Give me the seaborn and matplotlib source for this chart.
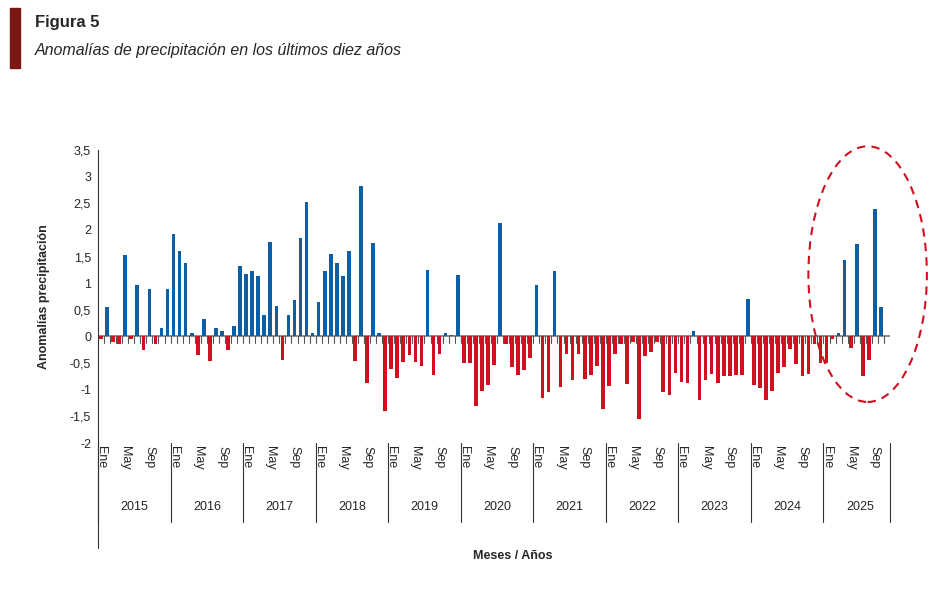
import numpy as np
import pandas as pd
import matplotlib
matplotlib.use("Agg")
import matplotlib.pyplot as plt
from matplotlib.patches import Ellipse, Rectangle
import seaborn as sns

# monthly anomalies, Jan 2015 - Oct 2025
anomalies = [
    -0.05, 0.55, -0.1, -0.15, 1.52, -0.05, 0.97, -0.25, 0.9, -0.15, 0.15, 0.9,      # 2015
    1.92, 1.6, 1.38, 0.07, -0.35, 0.32, -0.47, 0.15, 0.1, -0.25, 0.2, 1.33,          # 2016
    1.17, 1.22, 1.13, 0.4, 1.78, 0.58, -0.45, 0.4, 0.68, 1.85, 2.53, 0.07,           # 2017
    0.65, 1.22, 1.55, 1.38, 1.13, 1.6, -0.47, 2.82, -0.88, 1.75, 0.07, -1.4,         # 2018
    -0.62, -0.78, -0.48, -0.35, -0.48, -0.55, 1.25, -0.72, -0.32, 0.07, 0.03, 1.15,  # 2019
    -0.5, -0.5, -1.3, -1.03, -0.92, -0.54, 2.13, -0.15, -0.57, -0.73, -0.63, -0.41,  # 2020
    0.97, -1.15, -1.05, 1.22, -0.95, -0.32, -0.82, -0.32, -0.8, -0.73, -0.55, -1.37, # 2021
    -0.93, -0.33, -0.15, -0.9, -0.1, -1.55, -0.37, -0.3, -0.1, -1.05, -1.1, -0.68,   # 2022
    -0.85, -0.88, 0.1, -1.2, -0.82, -0.7, -0.88, -0.75, -0.75, -0.72, -0.72, 0.71,   # 2023
    -0.92, -0.97, -1.2, -1.02, -0.68, -0.58, -0.23, -0.52, -0.74, -0.7, -0.15, -0.5, # 2024
    -0.5, -0.05, 0.07, 1.43, -0.22, 1.74, -0.75, -0.45, 2.4, 0.56,                   # 2025
]
years = [str(y) for y in range(2015, 2026)]
month_labels = {0: "Ene", 4: "May", 8: "Sep"}
ytick_vals = [-2, -1.5, -1, -0.5, 0, 0.5, 1, 1.5, 2, 2.5, 3, 3.5]

BLUE = "#0b5fa5"
RED = "#d0101e"

df = pd.DataFrame({"idx": range(len(anomalies)), "val": anomalies})
df["sign"] = np.where(df["val"] >= 0, "pos", "neg")

sns.set_style("white")
plt.rcParams["font.family"] = ["Liberation Sans", "DejaVu Sans"]
fig = plt.figure(figsize=(9.46, 5.92), dpi=100)
ax = fig.add_axes([98 / 946, 1 - 443 / 592, 792 / 946, 293 / 592])

sns.barplot(data=df, x="idx", y="val", hue="sign", palette={"pos": BLUE, "neg": RED},
            dodge=False, width=0.6, linewidth=0, saturation=1, legend=False, ax=ax)
ax.set_xlim(-0.5, 130.5)
ax.set_ylim(-2, 3.5)
ax.axhline(0, color="#777777", lw=1.2, zorder=0)

for s in ["top", "right", "bottom"]:
    ax.spines[s].set_visible(False)
ax.spines["left"].set_color("#333333")
ax.set_yticks(ytick_vals)
ax.set_yticklabels([f"{v:g}".replace(".", ",") for v in ytick_vals], fontsize=9)
ax.tick_params(axis="y", length=3, color="#333333", pad=2)
ax.set_xticks([])
ax.set_xlabel("")
ax.set_ylabel("Anomalías precipitación", fontsize=9, fontweight="bold", labelpad=14)

# small month ticks below the zero line
for i in range(len(anomalies)):
    ax.plot([i + 0.5, i + 0.5], [0, -0.12], color="#555555", lw=0.8, zorder=0)

# category axis below the plot
trans = ax.get_xaxis_transform()
for i in range(len(anomalies)):
    m = i % 12
    if m in month_labels:
        ax.text(i, -0.01, month_labels[m], transform=trans, rotation=270,
                ha="center", va="top", fontsize=9)
for k, y in enumerate(years):
    start = k * 12 - 0.5
    ax.plot([start, start], [0, -0.27], transform=trans, color="#333333", lw=0.8, clip_on=False)
    ax.text(start + 6, -0.22, y, transform=trans, ha="center", va="center", fontsize=9)
ax.plot([130.5, 130.5], [0, -0.27], transform=trans, color="#333333", lw=0.8, clip_on=False)
ax.plot([-0.5, -0.5], [0, -0.36], transform=trans, color="#333333", lw=0.8, clip_on=False)
fig.text(513 / 946, 1 - 556 / 592, "Meses / Años", ha="center", va="center",
         fontsize=9, fontweight="bold")

# highlight the 2025 rainy months
ax.add_patch(Ellipse((126.8, 1.17), 19.6, 4.8, fill=False, ec=RED, lw=1.5,
                     ls=(0, (4, 3)), clip_on=False))

# header
fig.patches.append(Rectangle((10 / 946, 1 - 68 / 592), 10 / 946, 60 / 592,
                             transform=fig.transFigure, color="#7a1712"))
fig.text(35 / 946, 1 - 22 / 592, "Figura 5", fontsize=12, fontweight="bold", va="center")
fig.text(35 / 946, 1 - 50 / 592, "Anomalías de precipitación en los últimos diez años",
         fontsize=11.5, style="italic", va="center")

fig.savefig("out.png", dpi=100)
